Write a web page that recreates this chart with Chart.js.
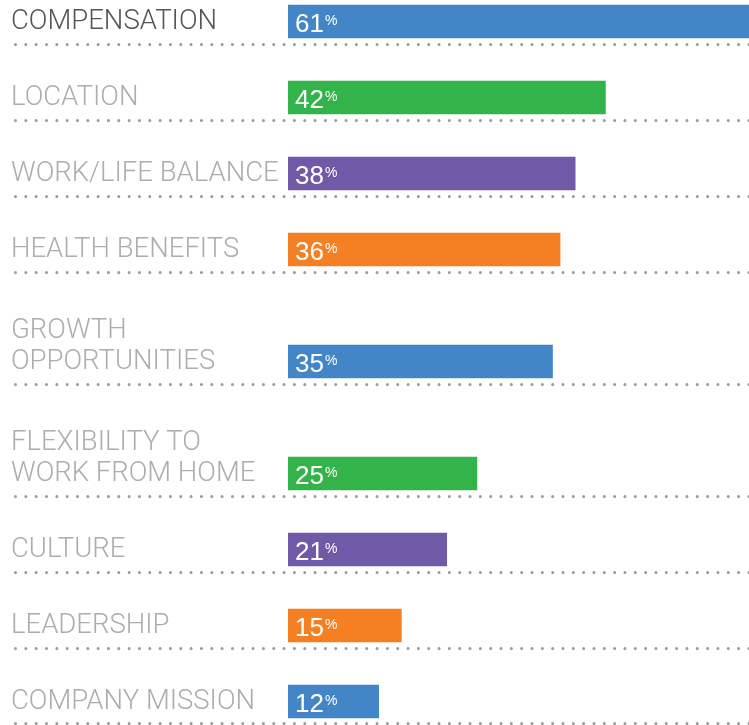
<!DOCTYPE html>
<html>
<head>
<meta charset="utf-8">
<script src="https://cdn.jsdelivr.net/npm/chart.js@4/dist/chart.umd.min.js"></script>
<style>
  html, body { margin: 0; padding: 0; background: #fff; }
  canvas { display: block; }
</style>
</head>
<body>
<canvas id="factorsChart" width="749" height="725"></canvas>
<script>
// Datos del gráfico
const categories = [
    'COMPENSATION',
    'LOCATION',
    'WORK/LIFE BALANCE',
    'HEALTH BENEFITS',
    ['GROWTH', 'OPPORTUNITIES'],
    ['FLEXIBILITY TO', 'WORK FROM HOME'],
    'CULTURE',
    'LEADERSHIP',
    'COMPANY MISSION'
];
const values = [61, 42, 38, 36, 35, 25, 21, 15, 12];
const palette = ['#4286c7', '#33b44a', '#7059a6', '#f58024'];

// Filas: las etiquetas de dos líneas ocupan más alto
const labelLines = categories.map(c => Array.isArray(c) ? c : [c]);
let acc = 0;
const rowBottoms = labelLines.map(l => (acc += 76 + 36 * (l.length - 1)));
const rowCenters = rowBottoms.map(b => b - 23.5);

const LABEL_FONT = '300 27.5px Roboto, "Liberation Sans", Arial, sans-serif';
const VALUE_FONT = '26px "Liberation Sans", Arial, sans-serif';
const PCT_FONT = '14px "Liberation Sans", Arial, sans-serif';

const rowDecor = {
    id: 'rowDecor',
    beforeDatasetsDraw(chart) {
        const ctx = chart.ctx;
        const y = chart.scales.y;
        ctx.save();
        ctx.strokeStyle = '#999999';
        ctx.lineWidth = 3;
        ctx.lineCap = 'round';
        ctx.setLineDash([0, 10.33]);
        rowBottoms.forEach(b => {
            const py = Math.min(y.getPixelForValue(b) - 0.5, chart.height - 1.5);
            ctx.beginPath();
            ctx.moveTo(15.5, py);
            ctx.lineTo(chart.width, py);
            ctx.stroke();
        });
        ctx.restore();
    },
    afterDatasetsDraw(chart) {
        const ctx = chart.ctx;
        const meta = chart.getDatasetMeta(0);
        ctx.save();
        ctx.textBaseline = 'alphabetic';
        ctx.textAlign = 'left';

        // Etiquetas de categoría
        ctx.font = LABEL_FONT;
        labelLines.forEach((lines, i) => {
            const base = meta.data[i].y + 7.5;
            ctx.fillStyle = i === 0 ? '#555555' : '#adadad';
            lines.forEach((t, k) => {
                ctx.fillText(t, 11, base - 31 * (lines.length - 1 - k));
            });
        });

        // Porcentajes dentro de las barras
        ctx.fillStyle = '#ffffff';
        meta.data.forEach((bar, i) => {
            const x0 = bar.base + 7;
            ctx.font = VALUE_FONT;
            const txt = String(values[i]);
            ctx.fillText(txt, x0, bar.y + 10.5);
            const w = ctx.measureText(txt).width;
            ctx.font = PCT_FONT;
            ctx.fillText('%', x0 + w + 1, bar.y + 3);
        });
        ctx.restore();
    }
};

new Chart(document.getElementById('factorsChart').getContext('2d'), {
    type: 'bar',
    data: {
        datasets: [{
            data: values.map((v, i) => ({ x: v, y: rowCenters[i] })),
            backgroundColor: values.map((v, i) => palette[i % palette.length]),
            borderWidth: 0,
            barThickness: 33
        }]
    },
    options: {
        indexAxis: 'y',
        responsive: false,
        animation: false,
        layout: { padding: { left: 288, right: 0, top: 0, bottom: 0 } },
        scales: {
            x: { type: 'linear', display: false, min: 0, max: Math.max(...values) },
            y: { type: 'linear', display: false, reverse: true, offset: false, min: 31, max: acc }
        },
        plugins: {
            legend: { display: false },
            tooltip: { enabled: false }
        }
    },
    plugins: [rowDecor]
});
</script>
</body>
</html>
